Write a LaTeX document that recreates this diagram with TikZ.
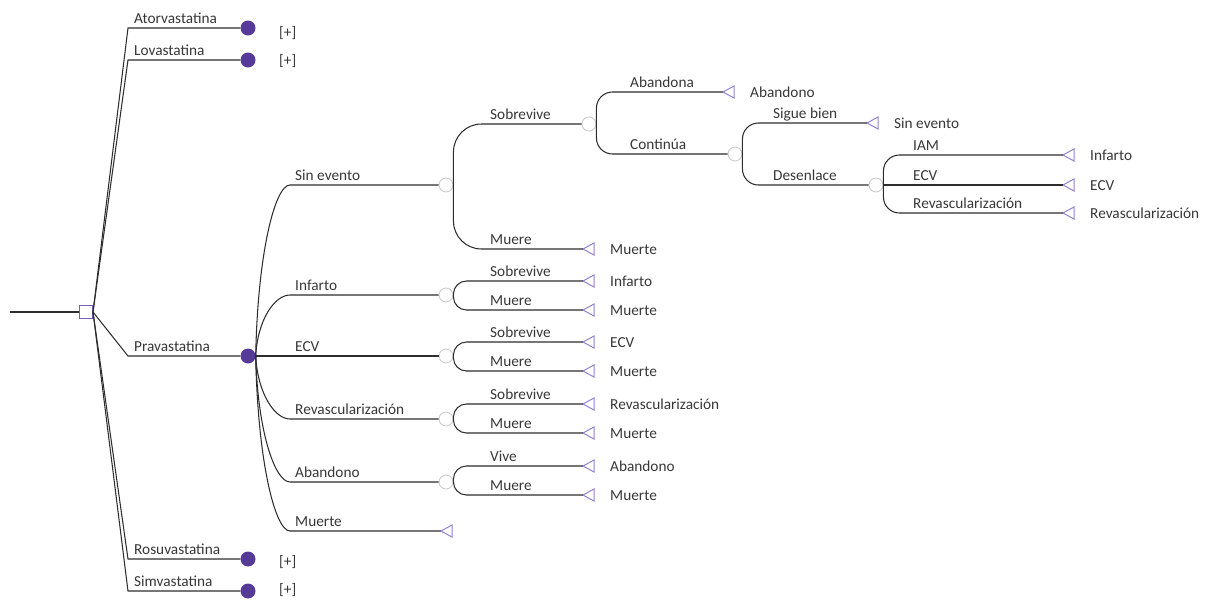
\documentclass[tikz,border=0pt]{standalone}
\usepackage{fontspec}
\setmainfont{Carlito}
\usetikzlibrary{calc}
\definecolor{ln}{RGB}{45,45,45}
\definecolor{txt}{RGB}{55,55,55}
\definecolor{purp}{RGB}{86,58,152}
\definecolor{decc}{RGB}{120,95,180}
\definecolor{tric}{RGB}{150,130,210}
\definecolor{chg}{RGB}{205,205,210}
\newcommand{\fsz}{\fontsize{15.3}{18}\selectfont}
\tikzset{
  br/.style={draw=ln, line width=1.05pt},
  lbl/.style={anchor=base west, inner sep=0pt, text=txt, font=\fsz},
  pdot/.style={circle, fill=purp, minimum size=15pt, inner sep=0pt},
  chn/.style={circle, draw=chg, fill=white, line width=0.9pt, minimum size=14pt, inner sep=0pt},
  dec/.style={rectangle, draw=decc, fill=white, line width=1pt, minimum size=13pt, inner sep=0pt},
  tri/.style={draw=tric, line width=1pt, fill=white, line join=miter},
}
\newcommand{\Term}[4]{%
  \coordinate (#1) at (#2,#3);
  \draw[tri] (#1) -- ++(11,-6) -- ++(0,12) -- cycle;
  \node[lbl] (#1l) at (#2+27,#3+5) {#4};
}
% upward / downward rounded branch: start, |dy|, radius, target
\newcommand{\BUp}[4]{\draw[br] (#1) -- ++(0,{-(#2-#3)}) .. controls +(0,{-0.552*#3}) and +({-0.552*#3},0) .. ++(#3,{-#3}) -- (#4);}
\newcommand{\BDn}[4]{\draw[br] (#1) -- ++(0,{#2-#3}) .. controls +(0,{0.552*#3}) and +({-0.552*#3},0) .. ++(#3,#3) -- (#4);}
\begin{document}
\begin{tikzpicture}[x=1pt,y=-1pt]
\useasboundingbox (0,0) rectangle (1207,603);
% root
\node[dec] (dn) at (86,312) {};
\coordinate (r0) at (10,312);
\draw[br] (r0) -- (dn.west);
% treatments
\node[pdot] (t1) at (248,28) {};
\node[pdot] (t2) at (248,60) {};
\node[pdot] (t3) at (248,356) {};
\node[pdot] (t4) at (248,559) {};
\node[pdot] (t5) at (248,591) {};
\coordinate (e1) at (128,28);
\coordinate (e2) at (128,60);
\coordinate (e3) at (128,356);
\coordinate (e4) at (128,559);
\coordinate (e5) at (128,591);
\draw[br] (dn.east) -- (e1) -- (t1.west);
\draw[br] (dn.east) -- (e2) -- (t2.west);
\draw[br] (dn.east) -- (e3) -- (t3.west);
\draw[br] (dn.east) -- (e4) -- (t4.west);
\draw[br] (dn.east) -- (e5) -- (t5.west);
\node[lbl] (l1) at (134,23) {Atorvastatina};
\node[lbl] (l2) at (134,55) {Lovastatina};
\node[lbl] (l3) at (134,351) {Pravastatina};
\node[lbl] (l4) at (134,554) {Rosuvastatina};
\node[lbl] (l5) at (134,586) {Simvastatina};
\node[lbl] (p1) at (279,37) {[+]};
\node[lbl] (p2) at (279,65) {[+]};
\node[lbl] (p4) at (279,566) {[+]};
\node[lbl] (p5) at (279,594) {[+]};
% Pravastatina subtree
\node[chn] (cse) at (446,185) {};
\node[chn] (cinf) at (446,295) {};
\node[chn] (cecv) at (446,356) {};
\node[chn] (crev) at (446,419) {};
\node[chn] (caba) at (446,482) {};
\coordinate (bse) at (290,185);
\coordinate (binf) at (290,295);
\coordinate (brev) at (290,419);
\coordinate (baba) at (290,482);
\coordinate (bmue) at (290,531);
\coordinate (tm0) at (441,531);
\draw[br] (t3.east) .. controls +(2,-103) and +(-15,0) .. (bse) -- (cse.west);
\draw[br] (t3.east) .. controls +(2,-37) and +(-15,0) .. (binf) -- (cinf.west);
\draw[br] (t3.east) -- (cecv.west);
\draw[br] (t3.east) .. controls +(2,38) and +(-15,0) .. (brev) -- (crev.west);
\draw[br] (t3.east) .. controls +(2,76) and +(-15,0) .. (baba) -- (caba.west);
\draw[br] (t3.east) .. controls +(2,105) and +(-15,0) .. (bmue) -- (tm0);
\draw[tri] (tm0) -- ++(11,-6) -- ++(0,12) -- cycle;
\node[lbl] (ls1) at (295,180) {Sin evento};
\node[lbl] (ls2) at (295,290) {Infarto};
\node[lbl] (ls3) at (295,351) {ECV};
\node[lbl] (ls4) at (295,414) {Revascularización};
\node[lbl] (ls5) at (295,477) {Abandono};
\node[lbl] (ls6) at (295,526) {Muerte};
% Sin evento chance
\node[chn] (csob) at (589,124) {};
\Term{tse}{583}{249}{Muerte}
\BUp{cse.east}{61}{28}{csob.west}
\BDn{cse.east}{64}{28}{tse}
\node[lbl] (lsob) at (490,119) {Sobrevive};
\node[lbl] (lmue) at (490,244) {Muere};
% Sobrevive chance
\node[chn] (ccon) at (735,154) {};
\Term{tab}{723}{92}{Abandono}
\BUp{csob.east}{32}{16}{tab}
\BDn{csob.east}{30}{16}{ccon.west}
\node[lbl] (laba) at (630,87) {Abandona};
\node[lbl] (lcon) at (630,149) {Continúa};
% Continua chance
\node[chn] (cdes) at (876,185) {};
\Term{tsb}{867}{123}{Sin evento}
\BUp{ccon.east}{31}{16}{tsb}
\BDn{ccon.east}{31}{16}{cdes.west}
\node[lbl] (lsig) at (773,118) {Sigue bien};
\node[lbl] (ldes) at (773,180) {Desenlace};
% Desenlace chance
\Term{tiam}{1063}{155}{Infarto}
\Term{tecv}{1063}{185}{ECV}
\Term{trev}{1063}{213}{Revascularización}
\BUp{cdes.east}{30}{16}{tiam}
\draw[br] (cdes.east) -- (tecv);
\BDn{cdes.east}{28}{16}{trev}
\node[lbl] (liam) at (913,150) {IAM};
\node[lbl] (lecv) at (913,180) {ECV};
\node[lbl] (lrev) at (913,208) {Revascularización};
% small chance nodes
\Term{ti1}{583}{281}{Infarto}
\Term{ti2}{583}{310}{Muerte}
\BUp{cinf.east}{14}{13}{ti1}
\BDn{cinf.east}{15}{13}{ti2}
\node[lbl] (li1) at (490,276) {Sobrevive};
\node[lbl] (li2) at (490,305) {Muere};
\Term{te1}{583}{342}{ECV}
\Term{te2}{583}{371}{Muerte}
\BUp{cecv.east}{14}{13}{te1}
\BDn{cecv.east}{15}{13}{te2}
\node[lbl] (le1) at (490,337) {Sobrevive};
\node[lbl] (le2) at (490,366) {Muere};
\Term{tr1}{583}{404}{Revascularización}
\Term{tr2}{583}{433}{Muerte}
\BUp{crev.east}{15}{13}{tr1}
\BDn{crev.east}{14}{13}{tr2}
\node[lbl] (lr1) at (490,399) {Sobrevive};
\node[lbl] (lr2) at (490,428) {Muere};
\Term{ta1}{583}{466}{Abandono}
\Term{ta2}{583}{495}{Muerte}
\BUp{caba.east}{16}{13}{ta1}
\BDn{caba.east}{13}{13}{ta2}
\node[lbl] (la1) at (490,461) {Vive};
\node[lbl] (la2) at (490,490) {Muere};
\end{tikzpicture}
\end{document}
